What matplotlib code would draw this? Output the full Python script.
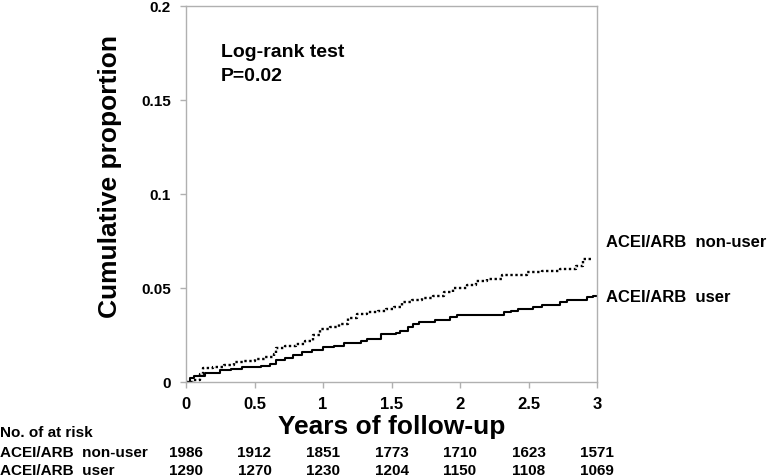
import matplotlib
matplotlib.use("Agg")
import matplotlib.pyplot as plt

plt.rcParams['font.family'] = ['Liberation Sans', 'DejaVu Sans']
plt.rcParams['font.weight'] = 'bold'

# Kaplan-Meier style cumulative proportion (step functions)
user_t = [0, 0.03, 0.06, 0.14, 0.25, 0.33, 0.41, 0.55, 0.61, 0.66, 0.72, 0.78,
          0.85, 0.92, 1.00, 1.08, 1.15, 1.22, 1.28, 1.32, 1.42, 1.53, 1.56, 1.62,
          1.66, 1.70, 1.82, 1.93, 1.98, 2.32, 2.37, 2.42, 2.53, 2.60, 2.73, 2.78,
          2.93, 2.97, 2.99]
user_v = [0, 0.002, 0.003, 0.005, 0.0065, 0.007, 0.008, 0.0085, 0.0096, 0.0117,
          0.013, 0.0145, 0.016, 0.017, 0.0185, 0.019, 0.0206, 0.021, 0.022, 0.0228,
          0.0255, 0.026, 0.027, 0.029, 0.031, 0.032, 0.033, 0.0345, 0.0357, 0.037,
          0.038, 0.039, 0.040, 0.041, 0.0425, 0.0435, 0.045, 0.0455, 0.0455]

nonuser_t = [0, 0.05, 0.10, 0.125, 0.20, 0.28, 0.35, 0.42, 0.50, 0.58, 0.64, 0.66,
             0.72, 0.80, 0.87, 0.93, 0.98, 1.05, 1.12, 1.18, 1.25, 1.32, 1.40, 1.46,
             1.52, 1.58, 1.65, 1.72, 1.80, 1.88, 1.95, 2.05, 2.12, 2.20, 2.31, 2.49,
             2.60, 2.73, 2.85, 2.90, 2.97]
nonuser_v = [0, 0.001, 0.004, 0.0074, 0.008, 0.009, 0.0105, 0.011, 0.012, 0.0135,
             0.015, 0.018, 0.019, 0.020, 0.022, 0.025, 0.028, 0.029, 0.031, 0.034,
             0.036, 0.037, 0.038, 0.039, 0.040, 0.0425, 0.0435, 0.0445, 0.0455,
             0.0478, 0.050, 0.0515, 0.0537, 0.055, 0.057, 0.0585, 0.0592, 0.060,
             0.0617, 0.0654, 0.0654]

xticks = [0, 0.5, 1, 1.5, 2, 2.5, 3]
xtick_labels = ['0', '0.5', '1', '1.5', '2', '2.5', '3']
yticks = [0, 0.05, 0.1, 0.15, 0.2]
ytick_labels = ['0', '0.05', '0.1', '0.15', '0.2']

risk_groups = ['ACEI/ARB  non-user', 'ACEI/ARB  user']
risk_nonuser = [1986, 1912, 1851, 1773, 1710, 1623, 1571]
risk_user = [1290, 1270, 1230, 1204, 1150, 1108, 1069]

fig = plt.figure(figsize=(7.74, 4.77), dpi=100)
ax = fig.add_axes([186/774, 1 - 383/477, (597-186)/774, (383-7)/477])

ax.step(nonuser_t, nonuser_v, where='post', color='black', lw=1.7,
        linestyle=(0, (1, 1.1)))
ax.step(user_t, user_v, where='post', color='black', lw=1.5)

ax.set_xlim(0, 3)
ax.set_ylim(0, 0.2)
ax.set_xticks(xticks)
ax.set_xticklabels(xtick_labels, fontsize=12, fontweight='bold')
ax.set_yticks(yticks)
ax.set_yticklabels(ytick_labels, fontsize=11, fontweight='bold')
for s in ax.spines.values():
    s.set_color('#b0b0b0')
    s.set_linewidth(1.0)
ax.tick_params(axis='both', colors='#b0b0b0', labelcolor='black', length=4, width=1)
ax.tick_params(axis='y', pad=7)
ax.tick_params(axis='x', pad=6)

ax.set_xlabel('Years of follow-up', fontsize=19, fontweight='bold', labelpad=2)
fig.text(110/774, 1 - 176/477, 'Cumulative proportion', rotation=90,
         fontsize=19, fontweight='bold', ha='center', va='center')

ax.text(0.255, 0.1734, 'Log-rank test', fontsize=14, fontweight='bold', va='baseline')
ax.text(0.255, 0.1606, 'P=0.02', fontsize=14, fontweight='bold', va='baseline')

ax.text(3.065, 0.0745, risk_groups[0], fontsize=12, fontweight='bold',
        va='center', ha='left', clip_on=False)
ax.text(3.065, 0.0455, risk_groups[1], fontsize=12, fontweight='bold',
        va='center', ha='left', clip_on=False)

# risk table
fig.text(0.0, 1 - 433/477, 'No. of at risk', fontsize=11, fontweight='bold',
         ha='left', va='center')
for row_y, label, vals in [(453, risk_groups[0], risk_nonuser),
                           (471, risk_groups[1], risk_user)]:
    fig.text(0.0, 1 - row_y/477, label, fontsize=11, fontweight='bold',
             ha='left', va='center')
    for xv, n in zip(xticks, vals):
        ax.annotate(str(n), xy=(xv, 0), xycoords=('data', 'axes fraction'),
                    xytext=(xv, 1 - row_y/477), textcoords=('data', 'figure fraction'),
                    fontsize=11, fontweight='bold', ha='center', va='center',
                    annotation_clip=False)

fig.savefig('out.png', dpi=100)
